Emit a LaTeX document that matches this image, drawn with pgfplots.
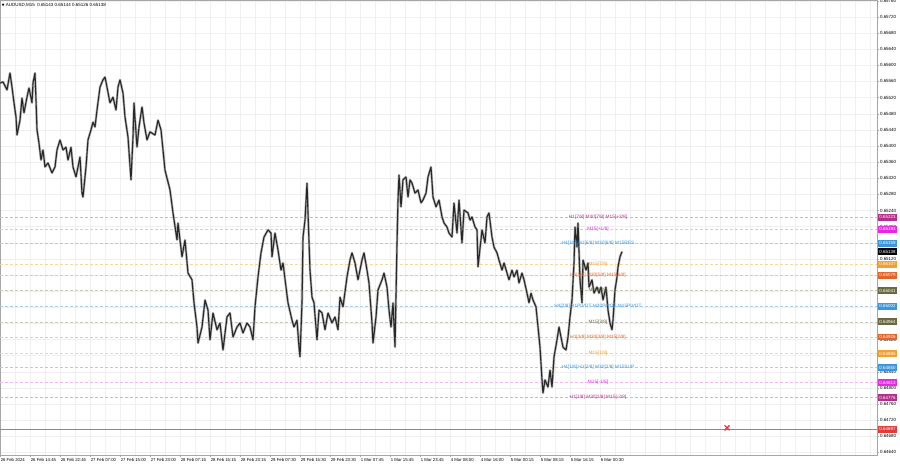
\documentclass[border=0pt]{standalone}
\usepackage{pgfplots}
\pgfplotsset{compat=1.18}
\usepackage{fontspec}
\setmainfont{Liberation Sans}
\newfontfamily\dejavu{DejaVu Sans}
\definecolor{dmag}{RGB}{176,48,140}
\definecolor{mag}{RGB}{228,40,228}
\definecolor{lblue}{RGB}{60,150,220}
\definecolor{lorange}{RGB}{240,160,50}
\definecolor{ored}{RGB}{226,100,42}
\definecolor{olivec}{RGB}{105,105,65}
\definecolor{lred}{RGB}{224,60,60}
\definecolor{gridc}{RGB}{240,240,240}
\definecolor{candle}{RGB}{40,40,40}
\pgfplotstableread{
x p
0 0.65556
3 0.65559
7 0.65539
10 0.65581
12 0.65546
14 0.65507
16 0.65472
17 0.65427
20 0.65464
22 0.65519
24 0.65482
27 0.65521
29 0.65544
32 0.65507
33 0.65556
35 0.65581
36 0.65514
37 0.65440
39 0.65407
41 0.65365
43 0.65390
45 0.65348
48 0.65358
52 0.65333
55 0.65348
57 0.65390
60 0.65415
63 0.65390
66 0.65397
68 0.65365
71 0.65397
73 0.65348
76 0.65323
78 0.65348
80 0.65373
82 0.65283
83 0.65273
86 0.65348
88 0.65415
91 0.65440
93 0.65459
95 0.65447
97 0.65489
100 0.65546
103 0.65564
105 0.65571
107 0.65546
110 0.65507
113 0.65521
116 0.65489
118 0.65546
120 0.65564
123 0.65531
125 0.65472
128 0.65422
131 0.65316
133 0.65422
134 0.65507
137 0.65397
139 0.65447
142 0.65497
144 0.65457
147 0.65415
150 0.65435
155 0.65427
158 0.65464
161 0.65440
163 0.65390
165 0.65340
170 0.65291
173 0.65234
177 0.65167
178 0.65209
182 0.65125
185 0.65167
188 0.65085
192 0.65068
194 0.65011
197 0.64951
198 0.64911
202 0.64951
205 0.65018
208 0.64993
210 0.64919
213 0.64986
217 0.64944
220 0.64961
223 0.64894
227 0.64976
230 0.64986
233 0.64926
237 0.64951
240 0.64961
243 0.64936
247 0.64961
250 0.64951
253 0.64919
255 0.65001
258 0.65075
261 0.65135
264 0.65174
268 0.65192
271 0.65184
272 0.65125
275 0.65184
278 0.65142
281 0.65092
283 0.65110
286 0.65050
288 0.65011
292 0.64968
294 0.64951
297 0.64968
299 0.64901
300 0.64877
302 0.65011
303 0.65174
305 0.65216
307 0.65308
308 0.65234
310 0.65092
312 0.65025
314 0.65011
317 0.64919
319 0.64993
322 0.64986
325 0.64944
328 0.64986
332 0.64961
335 0.64976
338 0.64944
340 0.65025
343 0.65001
347 0.65075
350 0.65117
352 0.65135
355 0.65110
358 0.65068
362 0.65117
364 0.65135
367 0.65092
369 0.65060
372 0.64961
373 0.64911
376 0.64976
378 0.65043
382 0.65068
384 0.65085
387 0.65050
389 0.64993
391 0.64951
393 0.65011
395 0.64901
397 0.65159
398 0.65266
399 0.65328
401 0.65249
403 0.65316
406 0.65323
408 0.65273
410 0.65316
412 0.65308
415 0.65283
418 0.65291
421 0.65259
423 0.65266
426 0.65283
428 0.65323
431 0.65348
433 0.65273
436 0.65249
439 0.65266
442 0.65224
444 0.65209
447 0.65199
449 0.65184
452 0.65174
454 0.65259
457 0.65184
459 0.65266
462 0.65159
464 0.65241
468 0.65234
470 0.65216
472 0.65224
475 0.65199
477 0.65192
478 0.65100
482 0.65192
485 0.65159
487 0.65224
489 0.65234
492 0.65174
494 0.65149
497 0.65135
499 0.65117
502 0.65092
504 0.65110
507 0.65085
509 0.65068
512 0.65092
514 0.65075
517 0.65092
519 0.65060
522 0.65085
524 0.65068
527 0.65035
529 0.65011
531 0.65035
533 0.65018
536 0.65001
538 0.64951
540 0.64901
542 0.64820
543 0.64787
545 0.64820
548 0.64802
550 0.64844
552 0.64802
554 0.64877
557 0.64919
559 0.64951
561 0.64926
563 0.64901
566 0.64894
568 0.64926
570 0.64976
572 0.65018
574 0.65110
575 0.65199
577 0.65149
578 0.65209
580 0.65068
582 0.65011
583 0.65117
586 0.65092
588 0.65110
589 0.65050
592 0.65068
594 0.65035
597 0.65050
599 0.65035
601 0.65050
603 0.65018
606 0.65050
608 0.64993
610 0.64961
612 0.64944
613 0.64968
615 0.65043
617 0.65075
618 0.65100
620 0.65125
622 0.65138
}\pricetable
\begin{document}
\begin{tikzpicture}
\useasboundingbox (0,0) rectangle (900bp,468bp);
\begin{axis}[
 at={(0bp,13bp)}, anchor=south west,
 width=877bp, height=455bp, scale only axis,
 xmin=0, xmax=877, ymin=0.646336, ymax=0.65762,
 clip=false,
 axis line style={draw=gray!70, line width=0.6bp},
 xtick={0,30,...,600},
 xticklabels={26 Feb 2024,26 Feb 14:45,26 Feb 22:45,27 Feb 07:00,27 Feb 15:00,27 Feb 23:00,28 Feb 07:15,28 Feb 15:15,28 Feb 23:15,29 Feb 07:30,29 Feb 15:30,29 Feb 23:30,1 Mar 07:45,1 Mar 15:45,1 Mar 23:45,4 Mar 08:00,4 Mar 16:00,5 Mar 00:15,5 Mar 08:15,5 Mar 16:15,6 Mar 00:30},
 minor xtick={15,30,...,870},
 ytick={0.6464,0.6468,0.6472,0.6476,0.6480,0.6484,0.6488,0.6492,0.6496,0.6500,0.6504,0.6508,0.6512,0.6516,0.6520,0.6524,0.6528,0.6532,0.6536,0.6540,0.6544,0.6548,0.6552,0.6556,0.6560,0.6564,0.6568,0.6572,0.6576},
 scaled y ticks=false,
 y tick label style={/pgf/number format/fixed, /pgf/number format/fixed zerofill, /pgf/number format/precision=5, /pgf/number format/assume math mode=true},
 xmajorgrids, xminorgrids, ymajorgrids,
 grid style={gridc, line width=0.4bp},
 minor grid style={gridc, line width=0.4bp},
 major grid style={gridc, line width=0.4bp},
 tick align=outside, xtick pos=bottom, ytick pos=right,
 major tick length=2bp, minor tick length=0pt,
 tick style={gray!70, line width=0.4bp},
 xticklabel style={font=\fontsize{4.3}{5}\selectfont, anchor=north west, inner sep=0.6bp, yshift=-0.5bp},
 yticklabel pos=right,
 yticklabel style={font=\fontsize{4.5}{5}\selectfont, anchor=west, inner sep=0.8bp},
]
% level lines
\addplot[dmag!40, dash pattern=on 3bp off 2bp, line width=0.5bp, forget plot] coordinates {(0,0.65223)(877,0.65223)};
\addplot[mag!35, dash pattern=on 3bp off 2bp, line width=0.5bp, forget plot] coordinates {(0,0.65193)(877,0.65193)};
\addplot[lblue!45, dash pattern=on 3bp off 2bp, line width=0.5bp, forget plot] coordinates {(0,0.65159)(877,0.65159)};
\addplot[lorange!45, dash pattern=on 3bp off 2bp, line width=0.5bp, forget plot] coordinates {(0,0.65107)(877,0.65107)};
\addplot[ored!40, dash pattern=on 3bp off 2bp, line width=0.5bp, forget plot] coordinates {(0,0.65079)(877,0.65079)};
\addplot[olivec!35, dash pattern=on 3bp off 2bp, line width=0.5bp, forget plot] coordinates {(0,0.65041)(877,0.65041)};
\addplot[lblue!45, dash pattern=on 3bp off 2bp, line width=0.5bp, forget plot] coordinates {(0,0.65002)(877,0.65002)};
\addplot[olivec!35, dash pattern=on 3bp off 2bp, line width=0.5bp, forget plot] coordinates {(0,0.64964)(877,0.64964)};
\addplot[ored!40, dash pattern=on 3bp off 2bp, line width=0.5bp, forget plot] coordinates {(0,0.64926)(877,0.64926)};
\addplot[lorange!45, dash pattern=on 3bp off 2bp, line width=0.5bp, forget plot] coordinates {(0,0.64885)(877,0.64885)};
\addplot[lblue!45, dash pattern=on 3bp off 2bp, line width=0.5bp, forget plot] coordinates {(0,0.64850)(877,0.64850)};
\addplot[mag!35, dash pattern=on 3bp off 2bp, line width=0.5bp, forget plot] coordinates {(0,0.64813)(877,0.64813)};
\addplot[dmag!40, dash pattern=on 3bp off 2bp, line width=0.5bp, forget plot] coordinates {(0,0.64776)(877,0.64776)};
\addplot[lred!80, line width=0.6bp, forget plot] coordinates {(0,0.64697)(877,0.64697)};
% price path: wick halo + body line
\addplot[gray!60, line width=2.4bp, line join=round, mark=none, forget plot] table[x=x, y=p] {\pricetable};
\addplot[candle, line width=1.1bp, line join=bevel, mark=none] table[x=x, y=p] {\pricetable};
% red X
\addplot[only marks, mark=x, mark size=3.5bp, lred, mark options={line width=1.3bp}, forget plot] coordinates {(727,0.64701)};
% level texts
\begin{scope}[every node/.style={font=\fontsize{4.8}{5}\selectfont, inner sep=0.3bp}]
\node[text=dmag] at (axis cs:598,0.65223) {H1[7/8] M30[7/8] M15[+2/8]};
\node[text=mag] at (axis cs:598,0.65193) {M15[+1/8]};
\node[text=lblue] at (axis cs:598,0.65159) {H4[3/8] H1[6/8] M30[6/8] M15RES};
\node[text=lorange] at (axis cs:598,0.65107) {M15[7/8]};
\node[text=ored] at (axis cs:598,0.65079) {H1[5/8] M30[5/8] M15[6/8]};
\node[text=olivec] at (axis cs:598,0.65041) {M15[5/8]};
\node[text=lblue] at (axis cs:598,0.65002) {H4[2/8] H1PIVOT M30PIVOT M15PIVOT};
\node[text=olivec] at (axis cs:598,0.64964) {M15[3/8]};
\node[text=ored] at (axis cs:598,0.64926) {H1[3/8] M30[3/8] M15[2/8]};
\node[text=lorange] at (axis cs:598,0.64885) {M15[1/8]};
\node[text=lblue] at (axis cs:598,0.64850) {H4[1/8] H1[2/8] M30[2/8] M15SUP};
\node[text=mag] at (axis cs:598,0.64813) {M15[-1/8]};
\node[text=dmag] at (axis cs:598,0.64776) {H1[1/8] M30[1/8] M15[-2/8]};
\end{scope}
% right-side price boxes
\begin{scope}[every node/.style={font=\fontsize{4.5}{5}\selectfont, anchor=west, text=white, inner xsep=1.2bp, inner ysep=0bp, minimum height=6.8bp, xshift=1bp}]
\node[fill=dmag] at (axis cs:877,0.65223) {0.65223};
\node[fill=mag] at (axis cs:877,0.65193) {0.65193};
\node[fill=lblue] at (axis cs:877,0.65159) {0.65159};
\node[fill=black] at (axis cs:877,0.65138) {0.65138};
\node[fill=lorange] at (axis cs:877,0.65107) {0.65107};
\node[fill=ored] at (axis cs:877,0.65079) {0.65079};
\node[fill=olivec] at (axis cs:877,0.65041) {0.65041};
\node[fill=lblue] at (axis cs:877,0.65002) {0.65002};
\node[fill=olivec] at (axis cs:877,0.64964) {0.64964};
\node[fill=ored] at (axis cs:877,0.64926) {0.64926};
\node[fill=lorange] at (axis cs:877,0.64885) {0.64885};
\node[fill=lblue] at (axis cs:877,0.64850) {0.64850};
\node[fill=mag] at (axis cs:877,0.64813) {0.64813};
\node[fill=dmag] at (axis cs:877,0.64776) {0.64776};
\node[fill=lred] at (axis cs:877,0.64697) {0.64697};
\end{scope}
% header
\node[anchor=north west, font=\fontsize{4.5}{5}\selectfont, inner sep=0pt] at (rel axis cs:0.002,0.993) {{\dejavu\fontsize{3.5}{4}\selectfont ▼}\ AUDUSD,M15\ \ 0.65143 0.65144 0.65126 0.65138};
\end{axis}
\end{tikzpicture}
\end{document}
